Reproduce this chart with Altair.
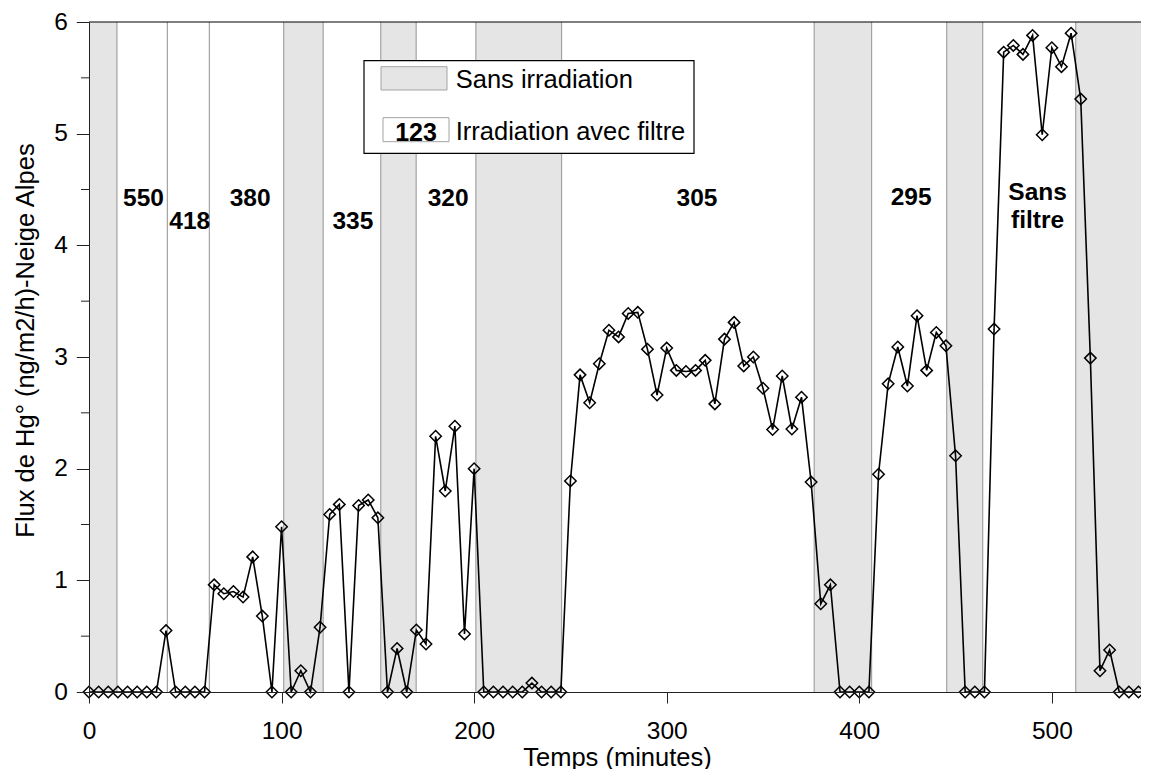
import altair as alt
import pandas as pd

# ---------------- data ----------------
time_min = [0, 5, 10, 15, 20, 25, 30, 35, 40, 45, 50, 55, 60, 65, 70, 75, 80, 85, 90, 95,
            100, 105, 110, 115, 120, 125, 130, 135, 140, 145, 150, 155, 160, 165, 170, 175,
            180, 185, 190, 195, 200, 205, 210, 215, 220, 225, 230, 235, 240, 245, 250, 255,
            260, 265, 270, 275, 280, 285, 290, 295, 300, 305, 310, 315, 320, 325, 330, 335,
            340, 345, 350, 355, 360, 365, 370, 375, 380, 385, 390, 395, 400, 405, 410, 415,
            420, 425, 430, 435, 440, 445, 450, 455, 460, 465, 470, 475, 480, 485, 490, 495,
            500, 505, 510, 515, 520, 525, 530, 535, 540, 545, 550]
flux = [0, 0, 0, 0, 0, 0, 0, 0, 0.55, 0, 0, 0, 0, 0.96, 0.88, 0.90, 0.85, 1.21, 0.68, 0,
        1.48, 0, 0.19, 0, 0.58, 1.59, 1.68, 0, 1.67, 1.72, 1.56, 0, 0.39, 0, 0.555, 0.43,
        2.29, 1.80, 2.38, 0.52, 2.00, 0, 0, 0, 0, 0, 0.08, 0, 0, 0, 1.89, 2.84,
        2.59, 2.94, 3.24, 3.18, 3.39, 3.40, 3.07, 2.66, 3.08, 2.88, 2.87, 2.88, 2.97, 2.58, 3.16, 3.31,
        2.92, 3.00, 2.72, 2.35, 2.83, 2.355, 2.64, 1.88, 0.79, 0.96, 0, 0, 0, 0, 1.95, 2.76,
        3.09, 2.74, 3.37, 2.88, 3.22, 3.10, 2.115, 0, 0, 0, 3.25, 5.73, 5.79, 5.71, 5.88, 4.99,
        5.77, 5.60, 5.90, 5.31, 2.99, 0.19, 0.376, 0, 0, 0, 0]

band_start = [0, 101.1, 151.5, 200.9, 376.6, 445.4, 512.4]
band_end = [14.5, 121.6, 169.9, 245.4, 406.4, 464.1, 550]
separators = [40.7, 62.5]

ann_text = ["550", "418", "380", "335", "320", "305", "295", "Sans", "filtre"]
ann_x = [28.3, 52.3, 83.7, 137.0, 186.5, 315.7, 426.9, 492.6, 492.6]
ann_y = [4.351, 4.142, 4.351, 4.142, 4.351, 4.351, 4.36, 4.405, 4.151]

x_ticks = [0, 100, 200, 300, 400, 500]
y_ticks = [0, 1, 2, 3, 4, 5, 6]
y_minor = [0.5, 1.5, 2.5, 3.5, 4.5, 5.5]

legend_labels = ["Sans irradiation", "Irradiation avec filtre"]
legend_sample = "123"

x_title = "Temps (minutes)"
y_title = "Flux de Hg° (ng/m2/h)-Neige Alpes"

# ---------------- style ----------------
FONT = "Liberation Sans"
W, H = 1052, 670          # page is 1149 wide: svg must stay within 1133 px
X_MAX = 546.3             # visible part of the 0-550 time axis (right edge cut like the original)
BAND_FILL = "#e5e5e5"
BAND_EDGE = "#a3a3a3"

xs = alt.Scale(domain=[0, X_MAX], nice=False, zero=False)
ys = alt.Scale(domain=[0, 6], nice=False)

df = pd.DataFrame({"t": time_min, "f": flux})
bands = pd.DataFrame({"s": band_start, "e": band_end})
edges = pd.DataFrame({"x": band_start[1:] + band_end[:-1] + separators})
ann = pd.DataFrame({"text": ann_text, "x": ann_x, "y": ann_y})
minor = pd.DataFrame({"v": y_minor})
one = pd.DataFrame({"a": [0]})

x_axis = alt.Axis(values=x_ticks, title=x_title, grid=False, tickSize=11, tickColor="#222",
                  domainColor="#222", labelFont=FONT, labelFontSize=24.5, labelColor="black",
                  labelPadding=16, labelFlush=False, labelOverlap=False, format="d",
                  titleFont=FONT, titleFontSize=25.5, titleFontWeight="normal", titleColor="black",
                  titleX=528, titleY=73, titleAlign="center", titleBaseline="alphabetic", zindex=1)
y_axis = alt.Axis(values=y_ticks, title=y_title, grid=False, tickSize=12.7, tickColor="#222",
                  domainColor="#222", labelFont=FONT, labelFontSize=24.5, labelColor="black",
                  labelPadding=9, labelFlush=False, labelOverlap=False, format="d",
                  titleFont=FONT, titleFontSize=25.5, titleFontWeight="normal", titleColor="black",
                  titleX=-56, titleY=318, titleAngle=270, titleAlign="center",
                  titleBaseline="alphabetic", zindex=1)

band_layer = alt.Chart(bands).mark_rect(fill=BAND_FILL).encode(
    x=alt.X("s:Q", scale=xs, axis=x_axis), x2="e:Q",
    y=alt.value(0), y2=alt.value(H))

edge_layer = alt.Chart(edges).mark_rule(color=BAND_EDGE, strokeWidth=1.2).encode(
    x=alt.X("x:Q", scale=xs, axis=x_axis), y=alt.value(0), y2=alt.value(H))

minor_layer = alt.Chart(minor).mark_rule(color="#222", strokeWidth=1).encode(
    y=alt.Y("v:Q", scale=ys, axis=y_axis), x=alt.value(-8), x2=alt.value(0))

top_frame = alt.Chart(one).mark_rule(color="black", strokeWidth=1.2).encode(
    x=alt.value(0), x2=alt.value(W), y=alt.value(0))

line_layer = alt.Chart(df).mark_line(color="black", strokeWidth=1.6).encode(
    x=alt.X("t:Q", scale=xs, axis=x_axis), y=alt.Y("f:Q", scale=ys, axis=y_axis))

point_layer = alt.Chart(df).mark_point(shape="diamond", size=130, filled=False, color="black",
                                       strokeWidth=1.5, opacity=1).encode(
    x=alt.X("t:Q", scale=xs, axis=x_axis), y=alt.Y("f:Q", scale=ys, axis=y_axis))

ann_layer = alt.Chart(ann).mark_text(font=FONT, fontSize=24.5, fontWeight="bold", color="black",
                                     align="center", baseline="alphabetic").encode(
    x=alt.X("x:Q", scale=xs, axis=x_axis), y=alt.Y("y:Q", scale=ys, axis=y_axis), text="text:N")

# legend box (drawn as an annotation inside the plot)
leg_box = alt.Chart(one).mark_rect(fill="white", stroke="black", strokeWidth=1.2).encode(
    x=alt.value(275), x2=alt.value(605), y=alt.value(38.7), y2=alt.value(131.3))
leg_sw1 = alt.Chart(one).mark_rect(fill=BAND_FILL, stroke=BAND_EDGE, strokeWidth=1).encode(
    x=alt.value(292), x2=alt.value(358), y=alt.value(44.7), y2=alt.value(68))
leg_sw2 = alt.Chart(one).mark_rect(fill="white", stroke=BAND_EDGE, strokeWidth=1).encode(
    x=alt.value(294), x2=alt.value(360), y=alt.value(95.7), y2=alt.value(119.7))
leg_t1 = alt.Chart(one).mark_text(font=FONT, fontSize=25.5, color="black", align="left",
                                  baseline="alphabetic").encode(
    x=alt.value(366.7), y=alt.value(66.3), text=alt.value(legend_labels[0]))
leg_t2 = alt.Chart(one).mark_text(font=FONT, fontSize=25.5, color="black", align="left",
                                  baseline="alphabetic").encode(
    x=alt.value(366.7), y=alt.value(118), text=alt.value(legend_labels[1]))
leg_t3 = alt.Chart(one).mark_text(font=FONT, fontSize=25, fontWeight="bold", color="black",
                                  align="center", baseline="alphabetic").encode(
    x=alt.value(327), y=alt.value(118.5), text=alt.value(legend_sample))

chart = alt.layer(
    band_layer, edge_layer, line_layer, point_layer, ann_layer, minor_layer, top_frame,
    leg_box, leg_sw1, leg_sw2, leg_t1, leg_t2, leg_t3
).properties(
    width=W, height=H,
    autosize=alt.AutoSizeParams(type="none"),
    padding={"left": 81, "top": 14, "right": 0, "bottom": 77},
    background="white",
).configure_view(stroke=None)

chart.save("out.html", embed_options={"renderer": "svg", "actions": False})
